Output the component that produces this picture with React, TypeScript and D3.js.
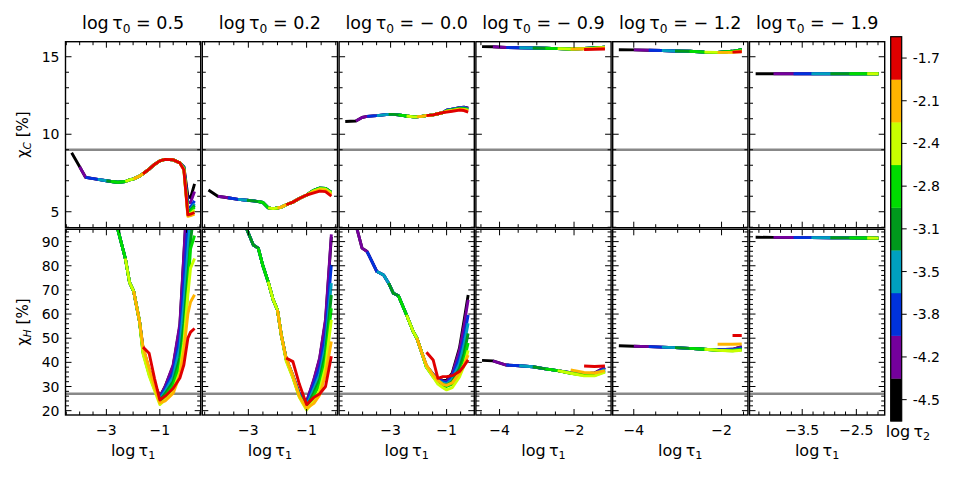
import * as d3 from "d3"

// log τ2 levels of the colour bar, bottom to top
const tau2Labels = ["-4.5", "-4.2", "-3.8", "-3.5", "-3.1", "-2.8", "-2.4", "-2.1", "-1.7"]
const tau2Colors = ["#000000", "#74009c", "#0032dc", "#00a0be", "#00991c", "#00dc00", "#c8ff00", "#ffb400", "#e00000"]

// log τ0 of each column
const tau0Labels = ["0.5", "0.2", "− 0.0", "− 0.9", "− 1.2", "− 1.9"]

// reference levels
const chiCRef = 9
const chiHRef = 27

// y ticks
const chiCTicks = [5, 10, 15]
const chiHTicks = [20, 30, 40, 50, 60, 70, 80, 90]

// x ticks of each column
const tau1Ticks = [[-3, -1], [-3, -1], [-3, -1], [-4, -2], [-4, -2], [-3.5, -2.5]]
const tau1Minor = [0.5, 0.5, 0.5, 0.5, 0.5, 0.2]

// ---- column 1: log τ0 = 0.5 ----
const tau1Col1 = [-4.3, -4.0, -3.78, -3.32, -3.0, -2.82, -2.57, -2.29, -2.13, -1.98, -1.76, -1.63, -1.4, -1.2, -1.0, -0.8, -0.5, -0.25, -0.1, 0.05, 0.15, 0.3]
const startCol1 = [0, 1, 2, 3, 4, 5, 7, 9, 11]
const chiCCol1 = [8.8, 7.9, 7.22, 7.09, 7.0, 6.95, 6.9, 6.95, 7.05, 7.12, 7.3, 7.45, 7.75, 8.05, 8.28, 8.38, 8.35, 8.15]
const chiCCol1Tails = [
  [7.9, 6.0, 5.9, 6.8],
  [7.9, 5.6, 5.6, 6.3],
  [7.85, 5.3, 5.3, 5.7],
  [7.85, 5.1, 5.15, 5.5],
  [7.8, 5.0, 5.1, 5.4],
  [7.8, 4.9, 5.0, 5.3],
  [7.75, 4.8, 4.9, 5.1],
  [7.7, 4.7, 4.75, 4.85],
  [7.7, 4.8, 4.85, 4.95],
]
const chiHCol1 = [150, 140, 132, 120, 110, 103, 95, 83, 73, 69.5, 57]
const chiHCol1Tails = [
  [46, 37, 31, 25.8, 30, 38.5, 55, 84, 114, 134, 158],
  [46, 37, 31, 25.8, 30, 39, 56, 85, 115, 135, 160],
  [45.5, 36.5, 30.5, 25.3, 29, 36, 50, 72, 98, 115, 135],
  [45, 36, 30, 24.8, 28, 34, 46, 64, 86, 100, 120],
  [44.5, 35.5, 29.5, 24.3, 27, 32, 42, 56, 76, 90, 105],
  [44, 35, 29, 23.8, 26, 30.5, 39, 50, 70, 87, 92.5],
  [43.5, 34.5, 28.5, 22.5, 24.5, 28.5, 36, 48, 68, 79, 83],
  [46.5, 37.6, 30, 23.2, 24, 27.2, 34.8, 45, 60, 65, 68],
  [46.3, 43.8, 33.4, 24.4, 26, 29.3, 33.5, 39, 50, 52.5, 54],
]

// ---- column 2: log τ0 = 0.2 ----
const tau1Col2 = [-4.37, -4.05, -3.7, -3.35, -3.05, -2.83, -2.66, -2.5, -2.32, -2.15, -2.0, -1.87, -1.7, -1.47, -1.25, -1.0, -0.75, -0.55, -0.35, -0.15]
const startCol2 = [0, 1, 2, 3, 4, 6, 8, 10, 12]
const chiCCol2 = [6.4, 6.0, 5.9, 5.8, 5.74, 5.7, 5.65, 5.6, 5.25, 5.2, 5.24, 5.3, 5.45, 5.62, 5.85, 6.08]
const chiCCol2Tails = [
  [6.38, 6.52, 6.5, 6.25],
  [6.38, 6.52, 6.5, 6.25],
  [6.38, 6.52, 6.5, 6.25],
  [6.38, 6.52, 6.5, 6.25],
  [6.38, 6.52, 6.5, 6.25],
  [6.38, 6.52, 6.5, 6.25],
  [6.35, 6.48, 6.45, 6.2],
  [6.3, 6.42, 6.4, 6.1],
  [6.22, 6.33, 6.3, 6.0],
]
const chiHCol2 = [140, 128, 115, 104, 95, 88.6, 87.3, 80, 73.4, 66, 61.7, 51.4]
const chiHCol2Tails = [
  [41.5, 34.5, 27, 23.7, 32.5, 41.5, 57, 92],
  [41.5, 34.5, 27, 23.7, 33, 42, 58, 93],
  [41.4, 34.3, 26.8, 22.8, 31, 38, 51, 80.4],
  [41.3, 34.2, 26.5, 22, 29, 35, 47, 72.8],
  [41.2, 34, 26.2, 21.5, 27.5, 33, 44, 67.9],
  [41, 33.8, 26, 20.8, 26, 31, 41, 62.4],
  [40.5, 33.5, 25.5, 20.3, 24, 28.5, 38, 57.6],
  [41.7, 34.5, 26, 21, 23, 26.5, 35, 48.6],
  [41.8, 40.3, 31, 22.5, 25.5, 27, 30, 42.5],
]

// ---- column 3: log τ0 = -0.0 ----
const tau1Col3 = [-4.62, -4.24, -4.02, -3.84, -3.49, -3.25, -3.07, -2.9, -2.72, -2.43, -2.19, -2.06, -1.9, -1.72, -1.48, -1.31, -1.13, -1.0, -0.8, -0.54, -0.38, -0.23]
const startCol3 = [0, 1, 3, 4, 6, 8, 9, 11, 13]
const chiCCol3 = [10.82, 10.85, 11.08, 11.15, 11.2, 11.25, 11.28, 11.28, 11.25, 11.18, 11.12, 11.12, 11.15, 11.2, 11.25, 11.32, 11.4]
const chiCCol3Tails = [
  [11.55, 11.62, 11.72, 11.75, 11.68],
  [11.55, 11.62, 11.72, 11.75, 11.68],
  [11.55, 11.62, 11.7, 11.72, 11.65],
  [11.52, 11.6, 11.68, 11.7, 11.62],
  [11.5, 11.58, 11.66, 11.67, 11.6],
  [11.5, 11.55, 11.64, 11.64, 11.57],
  [11.48, 11.53, 11.62, 11.6, 11.55],
  [11.47, 11.52, 11.6, 11.58, 11.5],
  [11.43, 11.48, 11.56, 11.53, 11.43],
]
const chiHCol3 = [120, 97, 87.3, 85.9, 77.6, 76.2, 72.8, 68.6, 67.6, 59.6, 52.7, 50, 44.5]
const chiHCol3Tails = [
  [38.5, 35, 33.2, 32.5, 32.5, 35.5, 46, 57, 67.9],
  [38.5, 35, 33, 32.3, 32, 35, 45, 55, 65.9],
  [38.5, 35, 33, 32, 31.5, 34, 42, 50, 59.6],
  [38, 34.5, 32.5, 31.5, 31, 33, 39.5, 47, 56.2],
  [38, 34.5, 32, 31, 30.5, 32, 37.5, 43.5, 52],
  [38, 34, 31.5, 30.5, 30, 31, 35.5, 40.5, 48],
  [38, 34, 31, 29.5, 28.6, 29.5, 34, 38.5, 45],
  [38.9, 34.8, 32.5, 30.9, 30.5, 31.5, 35.5, 39, 43],
  [44.2, 41, 33.4, 34.1, 34.1, 34.5, 36.2, 38.5, 41],
]

// ---- column 4: log τ0 = -0.9 ----
const tau1Col4 = [-4.47, -4.18, -3.82, -3.47, -3.11, -2.77, -2.44, -2.09, -1.73, -1.45, -1.17]
const startCol4 = [0, 1, 2, 3, 4, 5, 6, 7, 8]
const chiCCol4 = [15.65, 15.64, 15.6, 15.58, 15.56, 15.55, 15.52, 15.5]
const chiCCol4Tails = [
  [15.53, 15.57, 15.62],
  [15.53, 15.57, 15.62],
  [15.53, 15.57, 15.62],
  [15.53, 15.57, 15.62],
  [15.53, 15.57, 15.62],
  [15.53, 15.57, 15.62],
  [15.52, 15.55, 15.6],
  [15.5, 15.52, 15.56],
  [15.47, 15.48, 15.5],
]
const chiHCol4 = [40.8, 40.6, 38.9, 38.6, 38.2, 37.3, 36.6]
const chiHCol4Tails = [
  [35.7, 35.2, 35.6, 37.9],
  [35.7, 35.2, 35.6, 38.0],
  [35.6, 35.0, 35.3, 37.5],
  [35.6, 34.9, 35.1, 37.0],
  [35.5, 34.8, 34.9, 36.6],
  [35.5, 34.6, 34.6, 36.2],
  [35.5, 34.4, 34.4, 36.0],
  [36.9, 35.8, 35.6, 36.6],
  [null, 38.5, 38.3, 38.5],
]

// ---- column 5: log τ0 = -1.2 ----
const tau1Col5 = [-4.34, -4.0, -3.66, -3.36, -3.06, -2.73, -2.39, -2.09, -1.75, -1.54]
const startCol5 = [0, 1, 2, 3, 4, 5, 6, 7, 8]
const chiCCol5 = [15.45, 15.44, 15.42, 15.4, 15.37, 15.35, 15.3, 15.28]
const chiCCol5Tails = [
  [15.35, 15.45],
  [15.35, 15.45],
  [15.35, 15.45],
  [15.35, 15.45],
  [15.35, 15.45],
  [15.35, 15.45],
  [15.3, 15.38],
  [15.28, 15.34],
  [15.3, 15.32],
]
const chiHCol5 = [46.9, 46.7, 46.5, 46.3, 46.1, 45.8, 45.4]
const chiHCol5Tails = [
  [45.2, 45.4, 46.5],
  [45.2, 45.4, 46.5],
  [45.1, 45.2, 46.0],
  [45.0, 45.0, 45.6],
  [45.0, 44.9, 45.4],
  [45.0, 44.8, 45.2],
  [45.0, 44.7, 45.0],
  [47.5, 47.5, 47.6],
  [null, 51.1, 51.1],
]

// ---- column 6: log τ0 = -1.9 ----
const tau1Col6 = [-4.36, -4.03, -3.66, -3.33, -2.98, -2.63, -2.3, -2.09]
const startCol6 = [0, 1, 2, 3, 4, 5, 6, null, null]
const chiCCol6 = [13.9, 13.9, 13.9, 13.9, 13.9, 13.9, 13.9, 13.9]
const chiHCol6 = [91.8, 91.75, 91.7, 91.65, 91.6, 91.55, 91.5, 91.45]

const grids = [tau1Col1, tau1Col2, tau1Col3, tau1Col4, tau1Col5, tau1Col6]
const starts = [startCol1, startCol2, startCol3, startCol4, startCol5, startCol6]
const chiC = [
  { base: chiCCol1, tails: chiCCol1Tails },
  { base: chiCCol2, tails: chiCCol2Tails },
  { base: chiCCol3, tails: chiCCol3Tails },
  { base: chiCCol4, tails: chiCCol4Tails },
  { base: chiCCol5, tails: chiCCol5Tails },
  { base: chiCCol6, tails: [] as (number | null)[][] },
]
const chiH = [
  { base: chiHCol1, tails: chiHCol1Tails },
  { base: chiHCol2, tails: chiHCol2Tails },
  { base: chiHCol3, tails: chiHCol3Tails },
  { base: chiHCol4, tails: chiHCol4Tails },
  { base: chiHCol5, tails: chiHCol5Tails },
  { base: chiHCol6, tails: [] as (number | null)[][] },
]

// layout
const W = 959
const H = 477
const FONT = "DejaVu Sans"
const colX0 = 65.5
const colStep = 136.8
const panelW = 135.2
const rowSpec = [
  { top: 41.7, bottom: 227.7, domain: [3.97, 15.97], ticks: chiCTicks, minor: 1, ref: chiCRef },
  { top: 229.3, bottom: 415, domain: [18.2, 95.1], ticks: chiHTicks, minor: 2, ref: chiHRef },
]
const cbar = { x: 890.7, w: 11, top: 36.7, bottom: 421 }

const fmt = (v: number) => (v < 0 ? "−" : "") + String(Math.abs(v))

function minorTicks(major: number[], step: number, d0: number, d1: number) {
  const b = major[0]
  const out: number[] = []
  const k0 = Math.ceil((d0 - b) / step - 1e-9)
  const k1 = Math.floor((d1 - b) / step + 1e-9)
  for (let k = k0; k <= k1; k++) {
    const v = b + k * step
    if (!major.some((m) => Math.abs(m - v) < 1e-6)) out.push(v)
  }
  return out
}

function curvePoints(grid: number[], start: number | null, base: number[], tail: (number | null)[] | undefined) {
  if (start == null) return []
  const t = tail ?? []
  const from = grid.length - t.length
  const pts: [number, number][] = []
  for (let i = start; i < grid.length; i++) {
    const v = i >= from ? t[i - from] : base[i]
    if (v != null) pts.push([grid[i], v])
  }
  return pts
}

function Panel({ col, row }: { col: number; row: number }) {
  const grid = grids[col]
  const [lo, hi] = d3.extent(grid) as [number, number]
  const pad = (hi - lo) * 0.05
  const left = colX0 + col * colStep
  const right = left + panelW
  const x = d3.scaleLinear().domain([lo - pad, hi + pad]).range([left, right])
  const r = rowSpec[row]
  const y = d3.scaleLinear().domain(r.domain).range([r.bottom, r.top])
  const series = row === 0 ? chiC[col] : chiH[col]
  const line = d3
    .line<[number, number]>()
    .x((d) => x(d[0]))
    .y((d) => y(d[1]))

  const xMaj = tau1Ticks[col]
  const xMin = minorTicks(xMaj, tau1Minor[col], lo - pad, hi + pad)
  const yMaj = r.ticks.filter((v) => v >= r.domain[0] && v <= r.domain[1])
  const yMin = minorTicks(r.ticks, r.minor, r.domain[0], r.domain[1])
  const clipId = `clip-${row}-${col}`
  const majL = 6
  const minL = 3.5

  return (
    <g>
      <clipPath id={clipId}>
        <rect x={left} y={r.top} width={panelW} height={r.bottom - r.top} />
      </clipPath>
      <g clipPath={`url(#${clipId})`}>
        <line x1={left} x2={right} y1={y(r.ref)} y2={y(r.ref)} stroke="#888888" strokeWidth={2.6} />
        {tau2Colors.map((c, k) => {
          const pts = curvePoints(grid, starts[col][k], series.base, series.tails[k])
          if (pts.length < 2) return null
          return (
            <path
              key={k}
              d={line(pts) ?? ""}
              fill="none"
              stroke={c}
              strokeWidth={2.9}
              strokeLinejoin="round"
            />
          )
        })}
      </g>
      {/* ticks, inward on all four sides */}
      <g stroke="#000" strokeWidth={1}>
        {xMaj.map((v) => (
          <g key={`xM${v}`}>
            <line x1={x(v)} x2={x(v)} y1={r.bottom} y2={r.bottom - majL} />
            <line x1={x(v)} x2={x(v)} y1={r.top} y2={r.top + majL} />
          </g>
        ))}
        {xMin.map((v) => (
          <g key={`xm${v}`}>
            <line x1={x(v)} x2={x(v)} y1={r.bottom} y2={r.bottom - minL} />
            <line x1={x(v)} x2={x(v)} y1={r.top} y2={r.top + minL} />
          </g>
        ))}
        {yMaj.map((v) => (
          <g key={`yM${v}`}>
            <line x1={left} x2={left + majL} y1={y(v)} y2={y(v)} />
            <line x1={right} x2={right - majL} y1={y(v)} y2={y(v)} />
          </g>
        ))}
        {yMin.map((v) => (
          <g key={`ym${v}`}>
            <line x1={left} x2={left + minL} y1={y(v)} y2={y(v)} />
            <line x1={right} x2={right - minL} y1={y(v)} y2={y(v)} />
          </g>
        ))}
      </g>
      <rect x={left} y={r.top} width={panelW} height={r.bottom - r.top} fill="none" stroke="#000" strokeWidth={1.4} />
      {col === 0 &&
        yMaj.map((v) => (
          <text key={`yl${v}`} x={left - 6} y={y(v)} dy="0.36em" textAnchor="end" fontSize={14}>
            {v}
          </text>
        ))}
      {row === 1 &&
        xMaj.map((v) => (
          <text key={`xl${v}`} x={x(v)} y={r.bottom + 19.5} textAnchor="middle" fontSize={14}>
            {fmt(v)}
          </text>
        ))}
      {row === 1 && <LogTau x={(left + right) / 2} y={456} sub="1" size={16} />}
      {row === 0 && <LogTau x={(left + right) / 2} y={29} sub="0" rest={` = ${tau0Labels[col]}`} size={17.5} />}
    </g>
  )
}

function LogTau({ x, y, sub, rest = "", size }: { x: number; y: number; sub: string; rest?: string; size: number }) {
  return (
    <text x={x} y={y} textAnchor="middle" fontSize={size}>
      log
      <tspan dx={size * 0.2}>τ</tspan>
      <tspan fontSize={size * 0.7} dy={size * 0.2}>
        {sub}
      </tspan>
      <tspan dy={-size * 0.2}>{rest}</tspan>
    </text>
  )
}

function YLabel({ cy, sub }: { cy: number; sub: string }) {
  return (
    <text transform={`translate(28,${cy}) rotate(-90)`} textAnchor="middle" fontSize={15}>
      χ
      <tspan fontSize={10.5} dy={3} fontStyle="italic">
        {sub}
      </tspan>
      <tspan dy={-3}> [%]</tspan>
    </text>
  )
}

function ColorBar() {
  const y = d3
    .scaleBand<number>()
    .domain(d3.range(tau2Colors.length).reverse())
    .range([cbar.top, cbar.bottom])
  return (
    <g>
      {tau2Colors.map((c, k) => (
        <rect key={k} x={cbar.x} y={y(k)} width={cbar.w} height={y.bandwidth() + 0.3} fill={c} />
      ))}
      <rect x={cbar.x} y={cbar.top} width={cbar.w} height={cbar.bottom - cbar.top} fill="none" stroke="#000" strokeWidth={1.2} />
      {tau2Labels.map((t, k) => {
        const cy = (y(k) ?? 0) + y.bandwidth() / 2
        return (
          <g key={t}>
            <line x1={cbar.x + cbar.w} x2={cbar.x + cbar.w + 5} y1={cy} y2={cy} stroke="#000" strokeWidth={1} />
            <text x={cbar.x + cbar.w + 11} y={cy} dy="0.36em" fontSize={14}>
              {t}
            </text>
          </g>
        )
      })}
      <LogTau x={908} y={437} sub="2" size={16} />
    </g>
  )
}

export default function App() {
  return (
    <svg
      width={W}
      height={H}
      viewBox={`0 0 ${W} ${H}`}
      style={{ position: "absolute", left: 0, top: 0, background: "#fff" }}
      fontFamily={FONT}
    >
      <rect width={W} height={H} fill="#fff" />
      {[0, 1].map((row) => d3.range(6).map((col) => <Panel key={`${row}-${col}`} row={row} col={col} />))}
      <YLabel cy={(rowSpec[0].top + rowSpec[0].bottom) / 2} sub="C" />
      <YLabel cy={(rowSpec[1].top + rowSpec[1].bottom) / 2} sub="H" />
      <ColorBar />
    </svg>
  )
}
